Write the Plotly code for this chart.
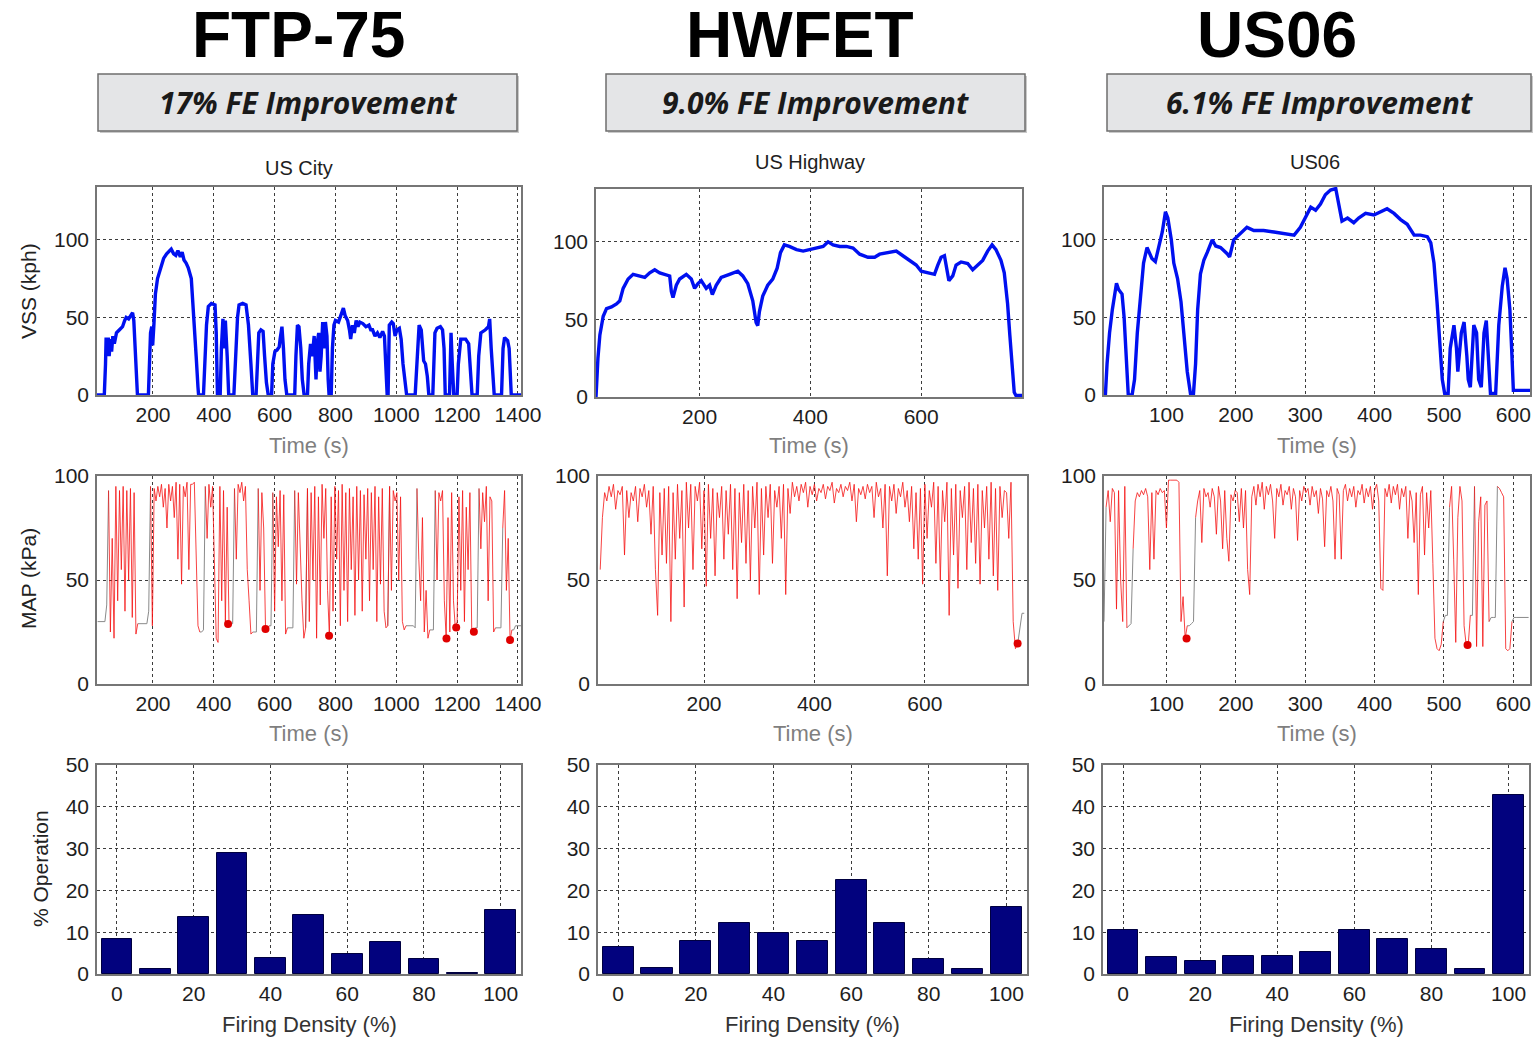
import plotly.graph_objects as go

W, H = 1537, 1039
FONT = "Liberation Sans, Arial, sans-serif"

# ---------------- labels ----------------
cycle_names = ["FTP-75", "HWFET", "US06"]
fe_gain_labels = ["17% FE Improvement", "9.0% FE Improvement", "6.1% FE Improvement"]
speed_titles = ["US City", "US Highway", "US06"]

# ---------------- vehicle speed (time s, speed kph) ----------------
ftp_vss_t = [16, 40, 44, 46, 50, 53, 56, 60, 64, 68, 73, 80, 90, 100, 107, 112, 120, 128, 133, 137,
             142, 146, 149, 185, 188, 192, 196, 199, 203, 208, 215, 225, 235, 245, 253, 260, 268, 275, 282, 290,
             296, 302, 309, 316, 326, 335, 342, 348, 350, 366, 370, 376, 382, 392, 404, 408, 412, 421, 425, 430,
             434, 438, 444, 449, 466, 472, 478, 483, 495, 506, 514, 522, 528, 539, 543, 548, 555, 562, 567, 573,
             579, 590, 594, 601, 608, 615, 618, 624, 629, 634, 640, 666, 670, 675, 680, 686, 691, 697, 708, 712,
             718, 724, 730, 736, 741, 745, 749, 753, 758, 763, 767, 772, 776, 779, 786, 790, 795, 800, 810, 820,
             826, 832, 840, 846, 850, 856, 862, 868, 874, 880, 890, 900, 910, 916, 922, 930, 938, 946, 955, 961,
             966, 970, 973, 977, 985, 990, 996, 1002, 1010, 1016, 1022, 1030, 1034, 1062, 1067, 1075, 1082, 1090, 1096, 1102,
             1107, 1120, 1127, 1134, 1145, 1152, 1157, 1161, 1175, 1180, 1184, 1189, 1200, 1204, 1212, 1228, 1238, 1243, 1249, 1266,
             1271, 1278, 1293, 1303, 1307, 1312, 1317, 1322, 1346, 1351, 1356, 1366, 1371, 1376, 1378, 1410]
ftp_vss_kph = [0, 0, 20, 37, 30, 37, 25, 36, 28, 38, 33, 40, 42, 44, 48, 50, 49, 51, 53, 48,
               30, 15, 0, 0, 20, 40, 44, 32, 45, 65, 75, 82, 88, 91, 93, 94, 91, 90, 93, 89,
               92, 87, 85, 82, 75, 50, 25, 5, 0, 0, 20, 45, 57, 59, 58, 40, 0, 0, 30, 49,
               30, 48, 25, 0, 0, 30, 50, 58, 59, 58, 45, 20, 0, 0, 20, 40, 42, 41, 25, 8,
               0, 0, 20, 28, 29, 31, 36, 44, 30, 10, 0, 0, 25, 45, 44, 30, 10, 0, 0, 20,
               33, 25, 38, 10, 35, 40, 15, 25, 47, 30, 47, 38, 10, 0, 0, 30, 45, 48, 47, 52,
               56, 51, 48, 42, 36, 45, 40, 48, 44, 47, 46, 44, 45, 42, 42, 38, 40, 37, 41, 38,
               20, 0, 0, 45, 47, 46, 38, 42, 43, 36, 20, 5, 0, 0, 20, 45, 42, 22, 20, 12,
               0, 0, 40, 43, 44, 42, 30, 0, 0, 40, 20, 0, 0, 20, 36, 36, 33, 15, 0, 0,
               25, 40, 42, 44, 49, 30, 10, 0, 0, 30, 37, 35, 30, 5, 0, 0]

hwy_vss_t = [13, 14, 16.5, 20, 26, 32, 41, 50, 56, 62, 71, 80, 92, 101, 110, 119, 128, 137, 146, 149,
             152, 158, 164, 176, 185, 191, 197, 203, 212, 218, 223, 230, 239, 254, 269, 278, 287, 296, 302, 305,
             308, 314, 323, 332, 340, 346, 353, 362, 375, 387, 399, 411, 423, 432, 441, 453, 465, 477, 489, 504,
             516, 525, 537, 555, 567, 579, 591, 600, 612, 624, 630, 636, 642, 646, 650, 657, 663, 672, 684, 693,
             702, 711, 720, 728, 735, 744, 750, 756, 760, 764, 768, 771, 782]
hwy_vss_kph = [0, 8, 25, 40, 52, 57, 58, 60, 62, 70, 76, 79, 78, 77, 80, 82, 80, 79, 78, 68,
               64, 72, 76, 79, 76, 70, 73, 75, 70, 72, 66, 72, 77, 79, 81, 78, 73, 62, 48, 46,
               55, 65, 72, 76, 83, 93, 98, 97, 95, 94, 95, 96, 97, 100, 98, 97, 97, 96, 92, 90,
               90, 92, 93, 94, 91, 88, 85, 81, 80, 79, 85, 90, 91, 84, 75, 78, 85, 87, 86, 82,
               85, 88, 94, 98, 95, 88, 80, 60, 40, 20, 3, 1, 1]

us06_vss_t = [10, 12, 14.4, 18, 22, 25, 28, 31, 36, 39, 42, 45, 50.5, 54, 58, 62.5, 67, 72, 79, 84,
              89, 94, 98.6, 102, 107, 110.6, 116, 121, 125, 130, 134.6, 139, 142, 145, 149, 154, 159, 166, 171, 178,
              187.5, 191, 197, 207, 216, 226, 240, 255, 269, 284, 293, 303, 308, 315, 322, 329, 336.5, 344, 348.6, 353,
              361, 370, 377, 387, 399, 408.6, 418, 428, 437.5, 447, 457, 466, 476, 481, 485.6, 490, 494, 497.6, 501, 506,
              509, 514.4, 518, 520, 525, 529, 533, 535, 538, 543, 547, 550, 553.8, 557.7, 561, 564, 567, 574.5, 579, 584,
              588, 591, 595, 598, 600, 605, 624]
us06_vss_kph = [0, 0, 20, 40, 55, 65, 72, 68, 65, 50, 25, 0, 0, 10, 40, 65, 85, 95, 88, 86,
                95, 105, 118, 114, 100, 85, 75, 60, 40, 15, 1, 1, 20, 55, 78, 87, 92, 100, 96, 95,
                91, 89, 100, 104, 108, 106, 106, 105, 104, 103, 108, 116, 121, 119, 123, 129, 132, 133, 122, 112,
                114, 111, 114, 117, 116, 118, 120, 117, 113, 110, 103, 103, 102, 98, 85, 60, 30, 10, 1, 1,
                30, 45, 30, 15, 40, 47, 25, 10, 5, 45, 40, 10, 5, 40, 48, 20, 1, 1, 45, 70,
                82, 75, 55, 25, 3, 3, 3]

# ---------------- manifold pressure, logged at a fixed interval ----------------
ftp_map_start, ftp_map_step = 18, 6
ftp_map_kpa = [30, 30, 30, 30, 30, 38,
               93, 25, 70, 22, 95, 40, 93, 55, 95, 35, 93, 50, 94, 32, 92, 24,
               29, 29, 29, 29, 29, 29, 35,
               95, 28, 94, 88, 95, 90, 96, 85, 94, 75, 96, 88, 95, 80, 97, 60, 96, 48, 95, 90, 97, 55, 96, 96, 97, 60, 28,
               25, 25, 26,
               95, 70, 96, 85, 95, 60, 22,
               20, 95, 40, 93, 30, 85,
               29, 29, 29,
               94, 60, 96, 92, 97, 88, 95, 55, 40, 24,
               25, 25, 25,
               94, 45, 92, 75, 27, 26,
               28, 28,
               92, 35, 90, 66, 93, 40, 91, 24,
               27, 27, 27, 27,
               93, 48, 92, 60, 40, 22,
               27,
               94, 30, 92, 50, 95, 22, 90, 38, 96, 70, 94, 45, 23,
               90, 35, 95, 60, 93, 28, 96, 45, 92, 30, 94, 55, 90, 33, 95, 50, 93, 35, 91, 60,
               94, 40, 92, 55, 95, 30, 90, 48, 94, 35, 27,
               28,
               95, 45, 93, 88, 92, 50, 90, 30, 26,
               28, 28, 28, 28, 28, 27,
               94, 60, 40, 80, 25, 45, 22,
               26, 26, 26,
               93, 50, 92, 88, 93, 40, 22,
               80, 25, 92, 40, 27, 30,
               90, 45, 93, 30, 85, 55, 92, 26,
               25, 27, 27,
               94, 65, 92, 78, 95, 40, 90, 88, 25,
               27, 27, 27, 27,
               75, 93, 45, 70, 21,
               26, 26, 28, 28, 28, 28]
ftp_idle = [(18, 48), (150, 186), (354, 366), (450, 462), (528, 540), (582, 588), (642, 660),
            (702, 702), (972, 972), (1032, 1062), (1110, 1122), (1254, 1266), (1326, 1344), (1380, 1410)]
ftp_dot_t = [447, 570, 779, 1165, 1197, 1255, 1374]
ftp_dot_kpa = [28.8, 26.4, 23.2, 21.9, 27.2, 25.1, 21.1]

hwy_map_start, hwy_map_step = 12, 4
hwy_map_kpa = [55, 80, 92, 88, 95, 90, 96, 84, 93, 91,
               95, 62, 93, 80, 92, 88, 95, 78, 94, 90,
               96, 85, 93, 72, 95, 55, 33, 92, 62, 94,
               58, 95, 30, 92, 60, 96, 70, 93, 37, 97,
               75, 96, 55, 95, 88, 97, 65, 93, 47, 96,
               70, 94, 52, 92, 80, 95, 60, 93, 72, 96,
               55, 94, 41, 92, 68, 96, 58, 93, 50, 95,
               75, 97, 43, 94, 62, 95, 80, 96, 58, 93,
               85, 95, 70, 96, 43, 94, 82, 97, 90, 95,
               88, 96, 92, 97, 85, 95, 91, 96, 88, 94,
               92, 96, 89, 95, 93, 97, 87, 94, 92, 96,
               90, 95, 93, 97, 88, 96, 78, 94, 91, 95,
               89, 96, 92, 95, 80, 97, 90, 94, 75, 96,
               52, 95, 88, 96, 82, 94, 90, 97, 85, 93,
               78, 95, 65, 92, 60, 94, 48, 96, 70, 93,
               85, 97, 58, 95, 50, 93, 78, 97, 33, 94,
               62, 96, 46, 93, 80, 95, 55, 97, 68, 94,
               58, 96, 48, 93, 75, 95, 60, 97, 52, 94,
               45, 95, 80, 93, 92, 70, 97, 30, 17, 19,
               28, 34, 34]
hwy_idle = [(768, 780)]
hwy_dot_t = [768]
hwy_dot_kpa = [19.5]

us06_map_start, us06_map_step = 10, 3
us06_map_kpa = [30, 85, 93, 78, 94, 92, 36, 93, 50, 30, 95,
                27, 28, 29,
                65, 88, 92, 90, 93, 91, 94, 90, 55, 92, 60, 93, 91, 94, 92, 93, 75, 98, 98, 98,
                98, 98, 97, 30, 42, 22,
                28, 28, 29, 30,
                80, 88, 93, 68, 94, 90, 92, 85, 94, 90,
                72, 95, 88, 65, 93, 70, 59, 91, 88, 93,
                92, 78, 94, 75, 93, 55, 43, 90, 95, 86,
                96, 90, 97, 84, 95, 91, 96, 88, 70, 94,
                90, 96, 86, 93, 91, 95, 84, 94, 90, 69,
                93, 88, 95, 92, 94, 86, 95, 90, 93, 82,
                94, 89, 66, 93, 90, 95, 88, 60, 94, 91,
                60, 93, 96, 88, 94, 90, 95, 85, 93, 91,
                96, 87, 94, 90, 95, 84, 93, 96, 88, 46,
                45, 94, 90, 96, 87, 95, 91, 96, 84, 94,
                90, 95, 70, 93, 88, 68, 92, 43, 91, 95,
                62, 92, 75, 93, 58, 22, 17, 16, 19,
                30, 33, 33,
                85, 95, 60, 20, 80, 95, 88, 28, 19, 19,
                33, 33,
                95, 18, 78, 90, 18, 86, 88,
                30, 32, 32, 32,
                95, 94, 92, 90, 17, 16, 17,
                30, 32, 32, 32, 32, 32, 32, 32, 32]
us06_idle = [(10, 10), (43, 49), (130, 139), (499, 505), (538, 541), (565, 574), (598, 622)]
us06_dot_t = [129, 534]
us06_dot_kpa = [21.9, 18.7]

# ---------------- firing density histogram ----------------
firing_density = [0, 10, 20, 30, 40, 50, 60, 70, 80, 90, 100]
ftp_operation = [8.3, 1.2, 13.6, 28.9, 3.9, 14.1, 4.9, 7.7, 3.5, 0.3, 15.4]
hwy_operation = [6.5, 1.5, 8.0, 12.1, 9.8, 8.0, 22.4, 12.1, 3.5, 1.2, 16.1]
us06_operation = [10.5, 4.1, 3.0, 4.3, 4.3, 5.3, 10.5, 8.3, 6.1, 1.2, 42.8]

vss_data = [(ftp_vss_t, ftp_vss_kph), (hwy_vss_t, hwy_vss_kph), (us06_vss_t, us06_vss_kph)]
map_data = [(ftp_map_start, ftp_map_step, ftp_map_kpa, ftp_idle, ftp_dot_t, ftp_dot_kpa),
            (hwy_map_start, hwy_map_step, hwy_map_kpa, hwy_idle, hwy_dot_t, hwy_dot_kpa),
            (us06_map_start, us06_map_step, us06_map_kpa, us06_idle, us06_dot_t, us06_dot_kpa)]
op_data = [ftp_operation, hwy_operation, us06_operation]

# ---------------- layout geometry (pixels) ----------------
panels = {
    (0, 0): (97, 187, 521, 395), (0, 1): (596, 189, 1022, 397), (0, 2): (1104, 187, 1530, 395),
    (1, 0): (97, 476, 521, 684), (1, 1): (598, 476, 1027, 684), (1, 2): (1104, 476, 1530, 684),
    (2, 0): (97, 765, 521, 974), (2, 1): (598, 765, 1027, 974), (2, 2): (1103, 765, 1529, 974),
}
time_ranges = [[16, 1410], [13, 782], [10, 624]]
map_ranges = [[16, 1410], [8, 785], [10, 624]]
time_ticks = [[200, 400, 600, 800, 1000, 1200, 1400], [200, 400, 600], [100, 200, 300, 400, 500, 600]]
header_x = [298, 800, 1277]
box_px = [(98, 517), (606, 1025), (1107, 1531)]
speed_title_pos = [(299, 168), (810, 162), (1315, 162)]


def fx(px):
    return px / W


def fy(py):
    return 1 - py / H


def in_idle(t, spans):
    return any(a <= t <= b for a, b in spans)


fig = go.Figure()
axes = {}
tick_font = dict(family=FONT, size=21, color="#1e1e1e")
base_axis = dict(showline=True, linecolor="#767676", linewidth=1.5, mirror=True,
                 showgrid=True, gridcolor="#3c3c3c", griddash="dot", gridwidth=1,
                 zeroline=False, ticks="", tickfont=tick_font,
                 automargin=False, fixedrange=True)

for r in range(3):
    for c in range(3):
        k = r * 3 + c + 1
        xa = "x" if k == 1 else f"x{k}"
        ya = "y" if k == 1 else f"y{k}"
        left, top, right, bottom = panels[(r, c)]
        xaxis = dict(base_axis, domain=[fx(left), fx(right)], anchor=ya, ticklabelstandoff=0)
        yaxis = dict(base_axis, domain=[fy(bottom), fy(top)], anchor=xa, ticklabelstandoff=2)
        if r == 0:
            t, v = vss_data[c]
            fig.add_trace(go.Scatter(x=t, y=v, mode="lines", xaxis=xa, yaxis=ya,
                                     line=dict(color="#0010f0", width=3.4), showlegend=False))
            xaxis.update(range=time_ranges[c], tickvals=time_ticks[c])
            yaxis.update(range=[0, 134], tickvals=[0, 50, 100])
        elif r == 1:
            t0, dt, vals, idle, dot_t, dot_v = map_data[c]
            times = [t0 + dt * i for i in range(len(vals))]
            flags = [in_idle(tt, idle) for tt in times]
            red_y, gray_y = [], []
            for i, val in enumerate(vals):
                prev = flags[i - 1] if i > 0 else flags[i]
                red_y.append(val if (not flags[i] or not prev) else None)
                gray_y.append(val if (flags[i] or prev) else None)
            fig.add_trace(go.Scatter(x=times, y=gray_y, mode="lines", xaxis=xa, yaxis=ya,
                                     line=dict(color="#8a8a8a", width=1), showlegend=False))
            fig.add_trace(go.Scatter(x=times, y=red_y, mode="lines", xaxis=xa, yaxis=ya,
                                     line=dict(color="rgba(245,20,20,0.8)", width=1), showlegend=False))
            fig.add_trace(go.Scatter(x=dot_t, y=dot_v, mode="markers", xaxis=xa, yaxis=ya,
                                     marker=dict(color="#e00000", size=8), showlegend=False))
            xaxis.update(range=map_ranges[c], tickvals=time_ticks[c])
            yaxis.update(range=[0, 100], tickvals=[0, 50, 100])
        else:
            fig.add_trace(go.Bar(x=firing_density, y=op_data[c], width=8, xaxis=xa, yaxis=ya,
                                 marker=dict(color="#02027e", line=dict(color="#000040", width=1)),
                                 showlegend=False))
            xaxis.update(range=[-5.2, 105.3], tickvals=[0, 20, 40, 60, 80, 100])
            yaxis.update(range=[0, 50], tickvals=[0, 10, 20, 30, 40, 50])
        axes["xaxis" if k == 1 else f"xaxis{k}"] = xaxis
        axes["yaxis" if k == 1 else f"yaxis{k}"] = yaxis

annotations = []
shapes = []
for c in range(3):
    # cycle name
    annotations.append(dict(text=f"<b>{cycle_names[c]}</b>", x=fx(header_x[c]), y=fy(35),
                            xref="paper", yref="paper", showarrow=False, xanchor="center", yanchor="middle",
                            font=dict(family=FONT, size=64, color="#000000")))
    # fuel economy box
    x0, x1 = box_px[c]
    shapes.append(dict(type="rect", xref="paper", yref="paper", x0=fx(x0 + 2), x1=fx(x1 + 2),
                       y0=fy(133), y1=fy(76), fillcolor="#c9c9c9", line=dict(width=0), layer="below"))
    shapes.append(dict(type="rect", xref="paper", yref="paper", x0=fx(x0), x1=fx(x1),
                       y0=fy(131), y1=fy(74), fillcolor="#e4e5e7", line=dict(color="#6e6e6e", width=1.5),
                       layer="below"))
    annotations.append(dict(text=f"<b><i>{fe_gain_labels[c]}</i></b>", x=fx((x0 + x1) / 2), y=fy(103),
                            xref="paper", yref="paper", showarrow=False, xanchor="center", yanchor="middle",
                            font=dict(family="Open Sans, Lato, sans-serif", size=30, color="#1a1a1a")))
    # speed panel title
    sx, sy = speed_title_pos[c]
    annotations.append(dict(text=speed_titles[c], x=fx(sx), y=fy(sy), xref="paper", yref="paper",
                            showarrow=False, xanchor="center", yanchor="middle",
                            font=dict(family=FONT, size=20, color="#1e1e1e")))
    # x axis titles
    for r, ty, label, color in [(0, 445, "Time (s)", "#7f7f7f"), (1, 733, "Time (s)", "#7f7f7f"),
                                (2, 1024, "Firing Density (%)", "#333333")]:
        left, top, right, bottom = panels[(r, c)]
        annotations.append(dict(text=label, x=fx((left + right) / 2), y=fy(ty), xref="paper", yref="paper",
                                showarrow=False, xanchor="center", yanchor="middle",
                                font=dict(family=FONT, size=22, color=color)))

for label, px, py in [("VSS (kph)", 28, 291), ("MAP (kPa)", 28, 579), ("% Operation", 40, 869)]:
    annotations.append(dict(text=label, x=fx(px), y=fy(py), xref="paper", yref="paper", showarrow=False,
                            textangle=-90, xanchor="center", yanchor="middle",
                            font=dict(family=FONT, size=21, color="#222222")))

fig.update_layout(width=W, height=H, margin=dict(l=0, r=0, t=0, b=0, pad=0),
                  paper_bgcolor="white", plot_bgcolor="white", bargap=0,
                  annotations=annotations, shapes=shapes, **axes)

fig.write_html("out.html", config={"displayModeBar": False},
               post_script="document.body.style.margin='0';document.body.style.overflow='hidden';")
